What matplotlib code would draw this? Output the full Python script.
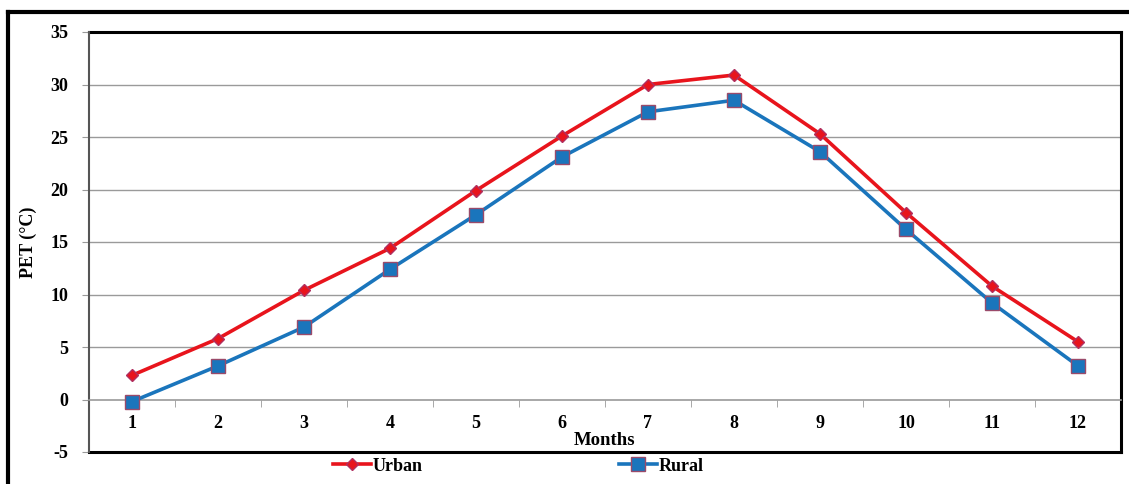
from matplotlib import pyplot as plt
from matplotlib.lines import Line2D

months = [1, 2, 3, 4, 5, 6, 7, 8, 9, 10, 11, 12]
urban = [2.3, 5.8, 10.4, 14.4, 19.9, 25.1, 30.0, 30.9, 25.3, 17.8, 10.8, 5.5]
rural = [-0.2, 3.2, 6.9, 12.4, 17.6, 23.1, 27.4, 28.5, 23.6, 16.2, 9.2, 3.2]
y_ticks = [-5, 0, 5, 10, 15, 20, 25, 30, 35]

plt.rcParams['font.family'] = ['Liberation Serif', 'DejaVu Serif']
plt.rcParams['font.weight'] = 'bold'

fig = plt.figure(figsize=(11.29, 4.84), dpi=100)
ax = fig.add_axes([89 / 1129, 1 - 452 / 484, 1032 / 1129, 420 / 484])

# gridlines
for v in y_ticks[2:-1]:
    ax.axhline(v, color="#9a9a9a", lw=1.0, zorder=0)

ax.plot(months, urban, color="#e8141c", lw=2.6, marker="D", markersize=6.5,
        markerfacecolor="#e8141c", markeredgecolor="#b03060", label="Urban", zorder=3)
ax.plot(months, rural, color="#1a75bc", lw=2.6, marker="s", markersize=10,
        markerfacecolor="#1a75bc", markeredgecolor="#9a4a6a", label="Rural", zorder=3)

ax.set_xlim(0.5, 12.5)
ax.set_ylim(-5, 35)

# category axis at zero
ax.spines['bottom'].set_position(('data', 0))
ax.spines['bottom'].set_color("#9a9a9a")
ax.spines['bottom'].set_linewidth(1.2)
ax.spines['left'].set_color("#555555")
ax.spines['left'].set_linewidth(1.5)
ax.spines['top'].set_visible(False)
ax.spines['right'].set_visible(False)

ax.set_xticks(months)
ax.set_xticklabels([str(m) for m in months], fontsize=13, fontweight="bold")
ax.set_xticks([m + 0.5 for m in months[:-1]], minor=True)
ax.tick_params(axis="x", which="major", length=0, pad=11)
ax.tick_params(axis="x", which="minor", length=5, direction="out", color="#9a9a9a")

ax.set_yticks(y_ticks)
ax.set_yticklabels([str(t) for t in y_ticks], fontsize=13, fontweight="bold")
ax.tick_params(axis="y", length=5, direction="out", color="#9a9a9a", pad=10)

# black frame top, right, bottom
for xs, ys in [([0, 1], [1, 1]), ([1, 1], [0, 1]), ([0, 1], [0, 0])]:
    ax.add_line(Line2D(xs, ys, transform=ax.transAxes, color="black", lw=2.2, clip_on=False))

ax.set_xlabel("Months", fontsize=13.5, fontweight="bold", labelpad=0)
ax.set_ylabel("PET (\u00b0C)", fontsize=13, fontweight="bold")
ax.yaxis.set_label_coords(-0.05, 0.5)

ax.legend(loc="center", bbox_to_anchor=(0.459, 0.037), bbox_transform=fig.transFigure,
          ncol=2, frameon=False, columnspacing=10.9, handlelength=2.1,
          handletextpad=0.1, prop={"weight": "bold", "size": 13})

# outer border
fig.add_artist(Line2D([8 / 1129, 8 / 1129], [0, 1 - 12 / 484], transform=fig.transFigure, color="black", lw=3))
fig.add_artist(Line2D([8 / 1129, 1], [1 - 12 / 484, 1 - 12 / 484], transform=fig.transFigure, color="black", lw=3))

plt.savefig("out.png", dpi=100)
plt.close()
